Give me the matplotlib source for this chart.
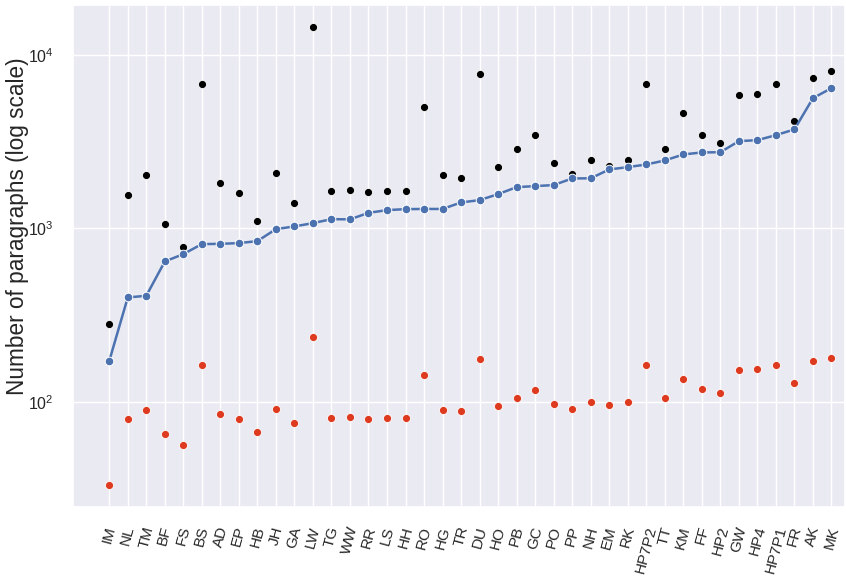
import numpy as np
import matplotlib
matplotlib.use("Agg")
import matplotlib.pyplot as plt
import seaborn as sns

# works, ordered by the middle series
works = ['IM', 'NL', 'TM', 'BF', 'FS', 'BS', 'AD', 'EP', 'HB', 'JH', 'GA', 'LW', 'TG', 'WW',
         'RR', 'LS', 'HH', 'RO', 'HG', 'TR', 'DU', 'HO', 'PB', 'GC', 'PO', 'PP', 'NH', 'EM',
         'RK', 'HP7P2', 'TT', 'KM', 'FF', 'HP2', 'GW', 'HP4', 'HP7P1', 'FR', 'AK', 'MK']

# blue line (sorted)
mid_counts = [172, 400, 409, 645, 711, 812, 815, 823, 845, 991, 1027, 1073, 1131, 1128,
              1230, 1275, 1292, 1295, 1295, 1412, 1456, 1577, 1730, 1754, 1778, 1942, 1945, 2188,
              2256, 2337, 2465, 2670, 2742, 2750, 3186, 3228, 3450, 3723, 5634, 6440]

# black dots
high_counts = [281, 1556, 2021, 1059, 780, 6790, 1817, 1591, 1097, 2074, 1399, 14460, 1634, 1655,
               1612, 1634, 1634, 5000, 2021, 1942, 7820, 2247, 2852, 3436, 2370, 2055, 2465, 2295,
               2465, 6760, 2852, 4600, 3436, 3090, 5844, 5920, 6760, 4137, 7318, 8035]

# red dots
low_counts = [33, 79.3, 89.3, 65, 56.1, 164, 84.7, 79.3, 66.7, 90.5, 75.2, 238, 80.4, 81.4,
              79.3, 80.4, 80.4, 142, 89.3, 88.1, 175.8, 94.2, 106, 116.4, 96.8, 90.5, 99.3, 95.5,
              99.3, 164, 106, 134.8, 118, 112, 152, 154, 164, 128, 171, 180]

sns.set_theme(style='darkgrid')
plt.rcParams['font.family'] = ['Liberation Sans', 'DejaVu Sans']

fig = plt.figure(figsize=(8.46, 5.79), dpi=100)
ax = fig.add_axes([0.086, 0.125, 0.913, 0.866])

x = np.arange(len(works))
ax.scatter(x, high_counts, s=34, color='black', edgecolor='white', linewidth=0.6, zorder=3)
ax.scatter(x, low_counts, s=34, color='#dd3a1f', edgecolor='white', linewidth=0.6, zorder=3)
ax.plot(x, mid_counts, color='#4c72b0', lw=1.8, marker='o', markersize=6.2,
        markeredgecolor='white', markeredgewidth=0.7, zorder=4)

ax.set_yscale('log')
ax.set_ylim(24.9, 19360)
ax.set_xlim(-1.97, 39.74)
ax.set_xticks(x)
ax.set_xticklabels(works, rotation=75)
ax.tick_params(axis='x', labelsize=11, pad=7)
ax.tick_params(axis='y', labelsize=11.5, pad=8)
ax.yaxis.set_minor_locator(matplotlib.ticker.NullLocator())
ax.set_ylabel('Number of paragraphs (log scale)', fontsize=16.3)
ax.yaxis.set_label_coords(-0.057, 0.56)

fig.savefig('out.png', dpi=100)
